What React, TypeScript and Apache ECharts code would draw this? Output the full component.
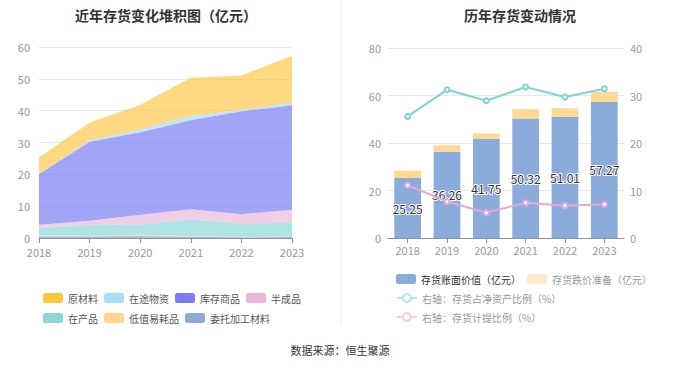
import React, { useEffect, useRef } from "react";
import * as echarts from "echarts";

const years = ["2018", "2019", "2020", "2021", "2022", "2023"];
// left stacked chart (亿元)
const weituo = [0.5, 0.5, 0.6, 0.4, 0.2, 0.3];
const dizhi = [0.2, 0.2, 0.4, 0.2, 0.2, 0.2];
const zaichanpin = [2.4, 3.4, 3.2, 5.3, 4.0, 4.4];
const banchengpin = [1.1, 1.3, 3.1, 3.1, 3.1, 4.0];
const kucun = [15.9, 24.8, 25.9, 28.0, 32.3, 32.8];
const zaitu = [0.1, 0.5, 0.9, 1.3, 0.4, 0.8];
const yuancailiao = [5.05, 5.56, 7.65, 12.02, 10.81, 14.77];
// right chart
const bookValue = [25.25, 36.26, 41.75, 50.32, 51.01, 57.27];
const impairment = [3.1, 2.8, 2.25, 3.9, 3.6, 4.3];
const netAssetRatio = [25.6, 31.2, 28.9, 31.8, 29.7, 31.4];
const provisionRatio = [11.1, 7.7, 5.3, 7.4, 6.8, 7.1];

const leftTicks = { min: 0, max: 60, interval: 10 };
const rightTicksL = { min: 0, max: 80, interval: 20 };
const rightTicksR = { min: 0, max: 40, interval: 10 };

const FONT = "'Noto Sans CJK SC', 'Noto Sans', sans-serif";

export default function App() {
  const ref = useRef<HTMLDivElement>(null);
  useEffect(() => {
    document.body.style.margin = "0";
    const chart = echarts.init(ref.current!, undefined, { renderer: "svg" });
    const axisLabel = { color: "#999", fontSize: 11, lineHeight: 11, fontFamily: FONT };
    const splitLine = { lineStyle: { color: "#E3E8F4" } };
    const areaSeries = (name: string, data: number[], color: string, opacity = 0.75) => ({
      name,
      type: "line",
      stack: "total",
      data,
      xAxisIndex: 0,
      yAxisIndex: 0,
      showSymbol: false,
      symbol: "none",
      lineStyle: { width: 0, color },
      itemStyle: { color },
      areaStyle: { color, opacity },
    });
    const option: any = {
      animation: false,
      textStyle: { fontFamily: FONT },
      title: [
        {
          text: "近年存货变化堆积图（亿元）",
          left: 161,
          textAlign: "center",
          top: 3,
          textStyle: { fontSize: 14, fontWeight: "bold", color: "#333", fontFamily: FONT },
        },
        {
          text: "历年存货变动情况",
          left: 515,
          textAlign: "center",
          top: 3,
          textStyle: { fontSize: 14, fontWeight: "bold", color: "#333", fontFamily: FONT },
        },
      ],
      graphic: [
        {
          type: "line",
          shape: { x1: 341, y1: 0, x2: 341, y2: 325 },
          style: { stroke: "#EEEEEE", lineWidth: 1 },
        },
        {
          type: "text",
          left: "center",
          top: 344,
          style: { text: "数据来源：恒生聚源", fill: "#333", fontSize: 11, fontFamily: FONT },
        },
      ],
      legend: [
        {
          left: 38,
          top: 288,
          itemWidth: 20,
          itemHeight: 10,
          itemGap: 6,
          icon: "roundRect",
          textStyle: { fontSize: 10, color: "#555", fontFamily: FONT },
          data: ["原材料", "在途物资", "库存商品", "半成品"],
        },
        {
          left: 38,
          top: 308,
          itemWidth: 20,
          itemHeight: 10,
          itemGap: 6,
          icon: "roundRect",
          textStyle: { fontSize: 10, color: "#555", fontFamily: FONT },
          data: ["在产品", "低值易耗品", "委托加工材料"],
        },
        {
          left: 391,
          top: 269,
          itemWidth: 20,
          itemHeight: 10,
          itemGap: 6,
          icon: "roundRect",
          textStyle: { fontSize: 10, fontFamily: FONT },
          data: [
            { name: "存货账面价值（亿元）", textStyle: { color: "#333" } },
            {
              name: "存货跌价准备（亿元）",
              textStyle: { color: "#999" },
              itemStyle: { color: "#FFEBC9" },
            },
          ],
        },
        {
          left: 391,
          top: 288,
          orient: "vertical",
          itemWidth: 20,
          itemHeight: 10,
          itemGap: 9,
          textStyle: { fontSize: 10, color: "#999", fontFamily: FONT },
          data: [
            {
              name: "右轴：存货占净资产比例（%）",
              itemStyle: { color: "#B5E6E9", borderColor: "#B5E6E9", borderWidth: 1.5 },
              lineStyle: { color: "#B5E6E9", width: 2 },
            },
            {
              name: "右轴：存货计提比例（%）",
              itemStyle: { color: "#F4CDE7", borderColor: "#F4CDE7", borderWidth: 1.5 },
              lineStyle: { color: "#F4CDE7", width: 2 },
            },
          ],
        },
      ],
      grid: [
        { left: 39, right: 388, top: 47, bottom: 129 },
        { left: 388, right: 56, top: 48, bottom: 129 },
      ],
      xAxis: [
        {
          gridIndex: 0,
          type: "category",
          data: years,
          boundaryGap: false,
          axisLine: { lineStyle: { color: "#8A94A6" } },
          axisTick: { show: true, lineStyle: { color: "#8A94A6" } },
          axisLabel: { ...axisLabel, margin: 8 },
        },
        {
          gridIndex: 1,
          type: "category",
          data: years,
          axisLine: { lineStyle: { color: "#8A94A6" } },
          axisTick: { show: true, alignWithLabel: true, lineStyle: { color: "#8A94A6" } },
          axisLabel: { ...axisLabel, margin: 6 },
        },
      ],
      yAxis: [
        {
          gridIndex: 0,
          type: "value",
          ...leftTicks,
          axisLabel: { ...axisLabel, margin: 9 },
          splitLine,
          axisLine: { show: false },
          axisTick: { show: false },
        },
        {
          gridIndex: 1,
          type: "value",
          ...rightTicksL,
          axisLabel: { ...axisLabel, margin: 7 },
          splitLine,
          axisLine: { show: false },
          axisTick: { show: false },
        },
        {
          gridIndex: 1,
          type: "value",
          position: "right",
          ...rightTicksR,
          axisLabel: { ...axisLabel, margin: 6 },
          splitLine: { show: false },
          axisLine: { show: false },
          axisTick: { show: false },
        },
      ],
      series: [
        areaSeries("委托加工材料", weituo, "#8AAAD9"),
        areaSeries("低值易耗品", dizhi, "#FFD58F"),
        areaSeries("在产品", zaichanpin, "#8AD8D8", 0.7),
        areaSeries("半成品", banchengpin, "#E8B4D8", 0.65),
        areaSeries("库存商品", kucun, "#7B7EF2", 0.7),
        areaSeries("在途物资", zaitu, "#A6DDF7", 0.75),
        areaSeries("原材料", yuancailiao, "#FFC53D", 0.65),
        {
          name: "存货账面价值（亿元）",
          type: "bar",
          stack: "bar",
          xAxisIndex: 1,
          yAxisIndex: 1,
          data: bookValue,
          barWidth: "68%",
          itemStyle: { color: "#8BABDA" },
          label: {
            show: true,
            position: "inside",
            color: "#333",
            fontSize: 12,
            fontFamily: FONT,
            textBorderColor: "#fff",
            textBorderWidth: 2,
            formatter: (p: any) => p.value.toFixed(2),
          },
          z: 2,
        },
        {
          name: "存货跌价准备（亿元）",
          type: "bar",
          stack: "bar",
          xAxisIndex: 1,
          yAxisIndex: 1,
          data: impairment,
          itemStyle: { color: "#FFD891" },
          z: 2,
        },
        {
          name: "右轴：存货占净资产比例（%）",
          type: "line",
          xAxisIndex: 1,
          yAxisIndex: 2,
          data: netAssetRatio,
          symbol: "emptyCircle",
          symbolSize: 5,
          lineStyle: { color: "#7FD3D8", width: 2 },
          itemStyle: { color: "#7FD3D8" },
          z: 5,
        },
        {
          name: "右轴：存货计提比例（%）",
          type: "line",
          xAxisIndex: 1,
          yAxisIndex: 2,
          data: provisionRatio,
          symbol: "emptyCircle",
          symbolSize: 5,
          lineStyle: { color: "#E4A9DA", width: 2 },
          itemStyle: { color: "#E4A9DA" },
          z: 5,
        },
      ],
    };
    chart.setOption(option);
    return () => chart.dispose();
  }, []);
  return <div ref={ref} style={{ width: 680, height: 367 }} />;
}
